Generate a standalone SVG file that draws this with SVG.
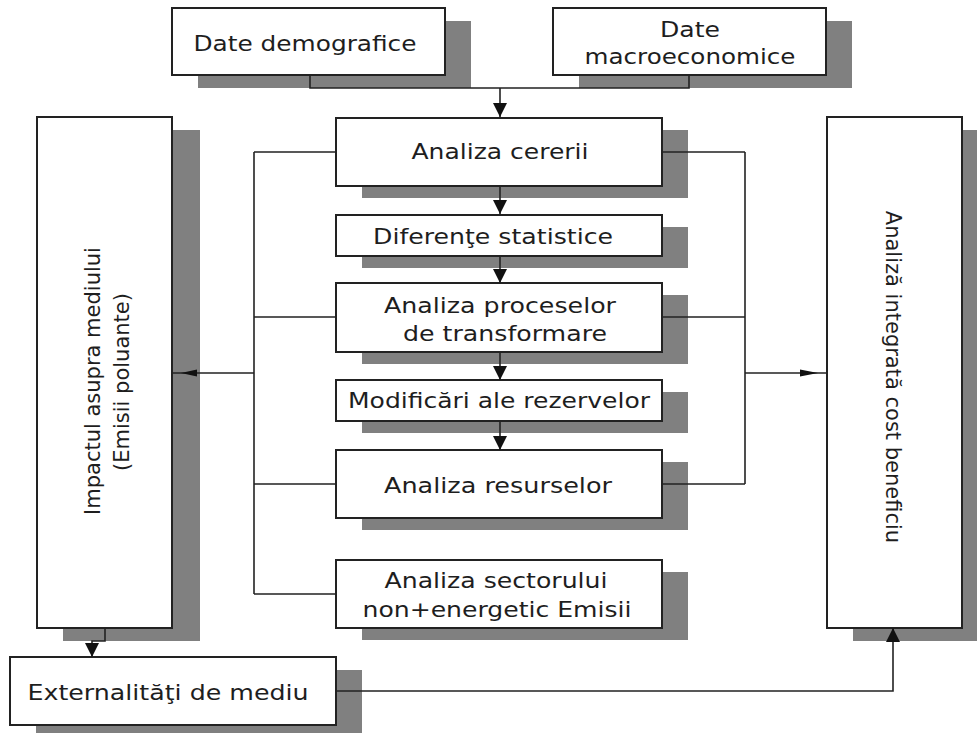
<svg xmlns="http://www.w3.org/2000/svg" width="977" height="733" viewBox="0 0 977 733">
  <style>
    .shadow { fill: #808080; }
    .box { fill: #ffffff; stroke: #222222; stroke-width: 2; }
    .txt { font-family: "DejaVu Sans", Verdana, sans-serif; font-size: 22px; fill: #1e1e1e; text-anchor: middle; }
    .vtxt { font-family: "DejaVu Sans", Verdana, sans-serif; font-size: 21px; fill: #1e1e1e; text-anchor: middle; }
    .conn { fill: none; stroke: #222222; stroke-width: 1.6; }
    .head { fill: #111111; stroke: none; }
  </style>
  <defs>
    <marker id="arr" viewBox="0 0 14 14" refX="14" refY="7" markerWidth="14" markerHeight="14" markerUnits="userSpaceOnUse" orient="auto">
      <path d="M0,0 L14,7 L0,14 z" fill="#111111"/>
    </marker>
  </defs>
  <rect x="0" y="0" width="977" height="733" fill="#ffffff"/>

  <g id="n_demografice">
    <rect class="shadow" x="198" y="21" width="273" height="67"/>
    <rect class="box" x="172" y="8" width="273" height="67"/>
    <text class="txt" x="305" y="51" textLength="223" lengthAdjust="spacingAndGlyphs">Date demografice</text>
  </g>

  <g id="n_macro">
    <rect class="shadow" x="579" y="21" width="273" height="67"/>
    <rect class="box" x="553" y="8" width="273" height="67"/>
    <text class="txt" x="690" y="37" textLength="60" lengthAdjust="spacingAndGlyphs">Date</text>
    <text class="txt" x="690" y="64" textLength="211" lengthAdjust="spacingAndGlyphs">macroeconomice</text>
  </g>

  <g id="n_cererii">
    <rect class="shadow" x="362" y="130" width="326" height="68"/>
    <rect class="box" x="336" y="118" width="326" height="68"/>
    <text class="txt" x="500" y="159" textLength="177" lengthAdjust="spacingAndGlyphs">Analiza cererii</text>
  </g>

  <g id="n_diferente">
    <rect class="shadow" x="362" y="227" width="326" height="41"/>
    <rect class="box" x="336" y="215" width="326" height="41"/>
    <text class="txt" x="493" y="244" textLength="240" lengthAdjust="spacingAndGlyphs">Diferenţe statistice</text>
  </g>

  <g id="n_procese">
    <rect class="shadow" x="362" y="295" width="326" height="69"/>
    <rect class="box" x="336" y="283" width="326" height="69"/>
    <text class="txt" x="500" y="313" textLength="232" lengthAdjust="spacingAndGlyphs">Analiza proceselor</text>
    <text class="txt" x="505" y="341" textLength="204" lengthAdjust="spacingAndGlyphs">de transformare</text>
  </g>

  <g id="n_modificari">
    <rect class="shadow" x="362" y="392" width="326" height="41"/>
    <rect class="box" x="336" y="380" width="326" height="41"/>
    <text class="txt" x="499" y="408" textLength="302" lengthAdjust="spacingAndGlyphs">Modificări ale rezervelor</text>
  </g>

  <g id="n_resurse">
    <rect class="shadow" x="362" y="462" width="326" height="68"/>
    <rect class="box" x="336" y="450" width="326" height="68"/>
    <text class="txt" x="498" y="493" textLength="228" lengthAdjust="spacingAndGlyphs">Analiza resurselor</text>
  </g>

  <g id="n_sector">
    <rect class="shadow" x="362" y="572" width="326" height="68"/>
    <rect class="box" x="336" y="560" width="326" height="68"/>
    <text class="txt" x="496" y="588" textLength="223" lengthAdjust="spacingAndGlyphs">Analiza sectorului</text>
    <text class="txt" x="497" y="617" textLength="269" lengthAdjust="spacingAndGlyphs">non+energetic Emisii</text>
  </g>

  <g id="n_impact">
    <rect class="shadow" x="63" y="130" width="137" height="511"/>
    <rect class="box" x="37" y="117" width="135" height="511"/>
    <text class="vtxt" transform="translate(100,381) rotate(-90)">Impactul asupra mediului</text>
    <text class="vtxt" transform="translate(129,382) rotate(-90)">(Emisii poluante)</text>
  </g>

  <g id="n_cost">
    <rect class="shadow" x="853" y="130" width="137" height="511"/>
    <rect class="box" x="827" y="117" width="135" height="511"/>
    <text class="vtxt" transform="translate(886,377) rotate(90)">Analiză integrată cost beneficiu</text>
  </g>

  <g id="n_extern">
    <rect class="shadow" x="36" y="670" width="326" height="68"/>
    <rect class="box" x="10" y="657" width="326" height="68"/>
    <text class="txt" x="168" y="700" textLength="281" lengthAdjust="spacingAndGlyphs">Externalităţi de mediu</text>
  </g>

  <g id="connectors">
    <path class="conn" d="M310,75 V88 H689 V75"/>
    <path class="conn" d="M500,88 V117" marker-end="url(#arr)"/>
    <path class="conn" d="M500,186 V214" marker-end="url(#arr)"/>
    <path class="conn" d="M500,256 V283" marker-end="url(#arr)"/>
    <path class="conn" d="M500,352 V380" marker-end="url(#arr)"/>
    <path class="conn" d="M500,421 V450" marker-end="url(#arr)"/>

    <path class="conn" d="M254,152 V594"/>
    <path class="conn" d="M254,152 H336 M254,317 H336 M254,484 H336 M254,594 H336"/>
    <path class="conn" d="M254,373 H172"/>
    <polygon class="head" points="181,373 197,369.5 197,376.5"/>

    <path class="conn" d="M745,152 V484"/>
    <path class="conn" d="M662,152 H745 M662,317 H745 M662,484 H745"/>
    <path class="conn" d="M745,373 H827"/>
    <polygon class="head" points="818,373 800,369.5 800,376.5"/>

    <path class="conn" d="M105,628 V641 H92 V657" marker-end="url(#arr)"/>
    <path class="conn" d="M336,691 H893 V628" marker-end="url(#arr)"/>
  </g>
</svg>
